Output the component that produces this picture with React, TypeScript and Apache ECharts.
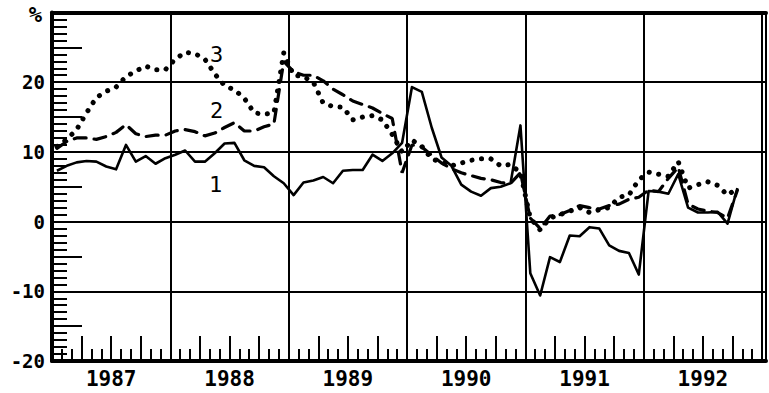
import React, { useEffect, useRef } from 'react';
import * as echarts from 'echarts';

// Monthly values, Jan 1987 .. Oct 1992 (plotted at mid-month)
const years = ['1987', '1988', '1989', '1990', '1991', '1992'];

const series1 = [
  7.3, 8.0, 8.5, 8.7, 8.6, 7.9, 7.5, 11.0, 8.6, 9.4, 8.3, 9.1,
  9.6, 10.2, 8.6, 8.6, 9.8, 11.2, 11.3, 8.8, 8.0, 7.8, 6.5, 5.5,
  3.8, 5.6, 5.9, 6.4, 5.5, 7.3, 7.4, 7.4, 9.6, 8.7, 9.8, 11.3,
  19.3, 18.6, 13.5, 9.2, 8.0, 5.3, 4.3, 3.7, 4.8, 5.0, 5.5, 13.8,
  -7.4, -10.6, -5.1, -5.8, -2.0, -2.1, -0.8, -1.0, -3.4, -4.2, -4.5, -7.6,
  4.4, 4.3, 4.0, 6.8, 2.0, 1.3, 1.3, 1.4, -0.3, 4.8,
];

const series2 = [
  10.5, 11.5, 12.0, 12.0, 11.8, 12.2, 12.8, 13.9, 12.6, 12.2, 12.4, 12.4,
  13.0, 13.2, 12.9, 12.3, 12.7, 13.5, 14.2, 13.0, 13.0, 13.6, 14.0, 23.0,
  21.5, 21.0, 21.0, 20.2, 19.0, 18.2, 17.3, 16.8, 16.3, 15.5, 14.8, 7.0,
  11.0, 10.7, 9.5, 8.4, 7.6, 7.0, 6.6, 6.2, 6.0, 5.6, 5.5, 7.0,
  0.5, -1.0, 0.8, 1.0, 1.6, 2.3, 2.0, 1.8, 2.3, 2.5, 3.2, 3.5,
  4.5, 4.3, 6.2, 7.8, 2.5, 1.8, 1.5, 1.3, 0.5, 4.5,
];

const series3 = [
  10.8, 11.8, 13.2, 15.6, 17.8, 18.7, 19.3, 20.8, 21.6, 22.3, 21.8, 21.8,
  23.3, 24.3, 24.1, 23.3, 21.2, 19.5, 18.9, 17.7, 15.6, 15.4, 15.6, 24.2,
  21.0, 20.8, 20.0, 17.0, 16.5, 16.4, 14.6, 15.0, 15.2, 14.6, 12.5, 10.0,
  11.7, 10.8, 9.0, 8.5, 8.0, 8.4, 8.8, 9.0, 9.0, 8.0, 8.2, 7.0,
  0.5, -1.2, 0.5, 1.0, 1.5, 2.0, 1.3, 1.7, 2.0, 3.5, 3.8, 6.0,
  7.1, 6.8, 6.5, 8.6, 4.8, 5.3, 5.7, 5.2, 3.8, 4.8,
];

const seriesNames = ['1', '2', '3'];

const FONT = "'DejaVu Sans Mono', 'Liberation Mono', monospace";
const BLACK = '#000';
const X_MAX = 72.4;

export default function App() {
  const ref = useRef<HTMLDivElement>(null);

  useEffect(() => {
    if (!ref.current) return;
    const chart = echarts.init(ref.current, null, { renderer: 'svg' });
    const pts = (arr: number[]) => arr.map((v, i) => [i + 0.5, v]);

    const baseX = { type: 'value', min: 0, max: X_MAX, gridIndex: 0 };
    const labelMark = (text: string, coord: number[]) => ({
      symbol: 'circle',
      symbolSize: 0,
      silent: true,
      label: {
        show: true,
        formatter: text,
        color: BLACK,
        fontFamily: FONT,
        fontSize: 22,
        position: 'inside',
      },
      data: [{ coord }],
    });

    chart.setOption({
      animation: false,
      backgroundColor: '#fff',
      grid: { left: 52, top: 12, width: 727, bottom: 32, containLabel: false },
      xAxis: [
        {
          ...baseX,
          position: 'bottom',
          interval: 12,
          axisLine: { show: true, onZero: false, lineStyle: { color: BLACK, width: 4 } },
          axisTick: { show: false },
          axisLabel: { show: false },
          splitLine: { show: true, lineStyle: { color: BLACK, width: 2 } },
        },
        {
          ...baseX,
          position: 'bottom',
          interval: 3,
          axisLine: { show: false, onZero: false },
          axisTick: { show: true, inside: true, length: 25, lineStyle: { color: BLACK, width: 2 } },
          minorTick: { show: true, splitNumber: 3, length: 12, lineStyle: { color: BLACK, width: 2 } },
          axisLabel: { show: false },
          splitLine: { show: false },
        },
        {
          ...baseX,
          position: 'bottom',
          interval: 6,
          axisLine: { show: false, onZero: false },
          axisTick: { show: false },
          splitLine: { show: false },
          axisLabel: {
            show: true,
            margin: 7,
            color: BLACK,
            fontFamily: FONT,
            fontWeight: 'bold',
            fontSize: 21,
            formatter: (v: number) => {
              const r = Math.round(v);
              return r % 12 === 6 ? years[(r - 6) / 12] ?? '' : '';
            },
          },
        },
        {
          ...baseX,
          position: 'top',
          axisLine: { show: true, onZero: false, lineStyle: { color: BLACK, width: 4 } },
          axisTick: { show: false },
          axisLabel: { show: false },
          splitLine: { show: false },
        },
      ],
      yAxis: [
        {
          type: 'value',
          min: -20,
          max: 30,
          interval: 10,
          position: 'left',
          axisLine: { show: true, onZero: false, lineStyle: { color: BLACK, width: 4 } },
          axisTick: { show: false },
          splitLine: { show: true, lineStyle: { color: BLACK, width: 2 } },
          axisLabel: {
            show: true,
            margin: 7,
            color: BLACK,
            fontFamily: FONT,
            fontWeight: 'bold',
            fontSize: 19,
            formatter: (v: number) => (v === 30 ? '{p|%}' : String(v)),
            rich: {
              p: {
                fontSize: 22,
                lineHeight: 22,
                fontWeight: 'bold',
                fontFamily: FONT,
                color: BLACK,
                padding: [3, 3, 0, 0],
              },
            },
          },
        },
        {
          type: 'value',
          min: -20,
          max: 30,
          interval: 5,
          position: 'left',
          axisLine: { show: false, onZero: false },
          axisTick: { show: true, inside: true, length: 30, lineStyle: { color: BLACK, width: 2 } },
          minorTick: { show: true, splitNumber: 5, length: 15, lineStyle: { color: BLACK, width: 2 } },
          axisLabel: { show: false },
          splitLine: { show: false },
        },
      ],
      series: [
        {
          name: seriesNames[0],
          type: 'line',
          xAxisIndex: 0,
          yAxisIndex: 0,
          data: pts(series1),
          symbol: 'none',
          silent: true,
          lineStyle: { color: BLACK, width: 2.6, type: 'solid', join: 'round' },
          markPoint: labelMark(seriesNames[0], [16.6, 5.3]),
        },
        {
          name: seriesNames[1],
          type: 'line',
          xAxisIndex: 0,
          yAxisIndex: 0,
          data: pts(series2),
          symbol: 'none',
          silent: true,
          lineStyle: { color: BLACK, width: 3.2, type: [12, 8], cap: 'round' },
          markPoint: labelMark(seriesNames[1], [16.7, 16.0]),
        },
        {
          name: seriesNames[2],
          type: 'line',
          xAxisIndex: 0,
          yAxisIndex: 0,
          data: pts(series3),
          symbol: 'none',
          silent: true,
          lineStyle: { color: BLACK, width: 5, type: [0.1, 9.5], cap: 'round' },
          markPoint: labelMark(seriesNames[2], [16.7, 24.0]),
        },
      ],
    });

    return () => chart.dispose();
  }, []);

  return (
    <div
      ref={ref}
      style={{ position: 'fixed', left: 0, top: 0, width: 769, height: 393, background: '#fff' }}
    />
  );
}
